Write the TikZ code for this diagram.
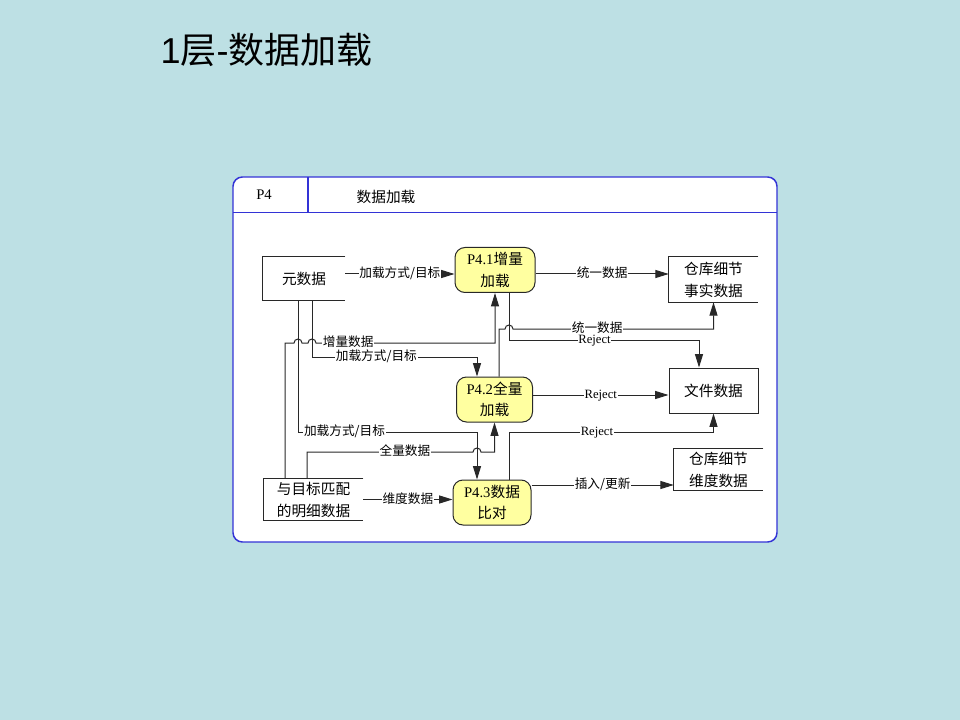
\documentclass[tikz,border=0pt]{standalone}
\usepackage{fontspec}
\setmainfont{Liberation Serif}
\newfontfamily\cjk{Noto Sans CJK SC}
\newfontfamily\titlesans{Liberation Sans}
\usetikzlibrary{arrows.meta}
\definecolor{pagebg}{RGB}{189,224,228}
\definecolor{framebl}{RGB}{51,51,214}
\definecolor{procfill}{RGB}{255,255,160}
\definecolor{inkgray}{RGB}{40,40,40}
\newcommand\zh[1]{{\cjk #1}}

\begin{document}
\begin{tikzpicture}[x=0.75pt,y=-0.75pt,
  proc/.style={draw=inkgray, line width=0.75pt, fill=procfill, rounded corners=7.5pt,
    inner sep=0pt, align=center, font=\fontsize{11}{16}\selectfont},
  store/.style={inner sep=0pt, align=center, font=\fontsize{11}{16.5}\selectfont},
  boxline/.style={draw=inkgray, line width=0.75pt},
  flow/.style={draw=inkgray, line width=0.75pt, -{Triangle[length=10pt,width=6pt]}},
  lbl/.style={fill=white, inner xsep=0.6pt, inner ysep=0pt, text height=0.7em, text depth=0.12em,
    text=black, font=\fontsize{9.5}{10}\selectfont},
]
% page and frame
\fill[pagebg] (0,0) rectangle (960,720);
\useasboundingbox (0,0) rectangle (960,720);

\node[anchor=west, font=\fontsize{27}{30}\selectfont] (title) at (156,50)
  {{\titlesans 1}\zh{层}{\titlesans -}\zh{数据加载}};

\draw[framebl, line width=1.1pt, fill=white, rounded corners=7pt] (233,177) rectangle (777,542);
\draw[framebl, line width=1.1pt] (233,212.5) -- (777,212.5);
\draw[framebl, line width=1.1pt] (308,177) -- (308,212.5);
\node[font=\fontsize{11}{12}\selectfont] (pid) at (264,195) {P4};
\node[font=\fontsize{11}{12}\selectfont] (pname) at (386,197) {\zh{数据加载}};

% processes
\node[proc, minimum width=60pt, minimum height=33.75pt] (p41) at (495,270)
  {P4.1\zh{增量}\\\zh{加载}};
\node[proc, minimum width=57pt, minimum height=33.75pt] (p42) at (494.5,399.5)
  {P4.2\zh{全量}\\\zh{加载}};
\node[proc, minimum width=58.5pt, minimum height=33.75pt] (p43) at (492,502.5)
  {P4.3\zh{数据}\\\zh{比对}};

% data stores
\node[store, minimum width=61.5pt, minimum height=32.25pt] (meta) at (304,278.5) {\zh{元数据}};
\node[store, minimum width=66.75pt, minimum height=33.75pt] (fact) at (713.5,279.5)
  {\zh{仓库细节}\\\zh{事实数据}};
\node[store, boxline, minimum width=66.75pt, minimum height=33.75pt] (file) at (713.5,390.5)
  {\zh{文件数据}};
\node[store, minimum width=66.75pt, minimum height=30.75pt] (dim) at (718.5,469.5)
  {\zh{仓库细节}\\\zh{维度数据}};
\node[store, minimum width=74.25pt, minimum height=30.75pt] (match) at (313.5,499.5)
  {\zh{与目标匹配}\\\zh{的明细数据}};
\foreach \n in {meta,fact,dim,match}
  \draw[boxline] (\n.north east) -- (\n.north west) -- (\n.south west) -- (\n.south east);

% routing points
\coordinate (y274) at (0,274);
\coordinate (y395) at (0,395);
\coordinate (y485) at (0,485);
\coordinate (inc) at (285,343);
\coordinate (ld1) at (312,357);
\coordinate (ld2) at (298,432);
\coordinate (ful) at (307,452);
\coordinate (xe) at (477,0);
\coordinate (u2) at (499,329);
\coordinate (r1) at (509,340);
\coordinate (r3) at (509,432);
\coordinate (xj) at (699,0);

% flows
\draw[flow] (meta.east |- y274) -- node[lbl]{\zh{加载方式/目标}} (p41.west |- y274);
\draw[flow] (p41.east |- y274) -- node[lbl]{\zh{统一数据}} (fact.west |- y274);

\draw[flow] (inc |- match.north) -- (inc)
  -- ([xshift=-3pt]ld2 |- inc) arc[start angle=180, end angle=360, radius=4]
  -- ([xshift=-3pt]ld1 |- inc) arc[start angle=180, end angle=360, radius=4]
  -- node[lbl, pos=0.18]{\zh{增量数据}} (p41.south |- inc) -- (p41.south);

\draw[flow] (ld1 |- meta.south) -- (ld1)
  -- node[lbl, pos=0.39]{\zh{加载方式/目标}} (xe |- ld1) -- (xe |- p42.north);

\draw[flow] (ld2 |- meta.south) -- (ld2)
  -- node[lbl, pos=0.26]{\zh{加载方式/目标}} (xe |- ld2) -- (xe |- p43.north);

\draw[flow] (ful |- match.north) -- (ful)
  -- node[lbl, pos=0.59]{\zh{全量数据}} ([xshift=-3pt]xe |- ful)
  arc[start angle=180, end angle=360, radius=4]
  -- (p42.south |- ful) -- (p42.south);

\draw[flow] (match.east) -- node[lbl]{\zh{维度数据}} (p43.west |- match.east);
\draw[flow] (p43.east |- y485) -- node[lbl]{\zh{插入/更新}} (dim.west |- y485);

\draw[flow] (r3 |- p43.north) -- (r3)
  -- node[lbl, pos=0.43]{Reject} (file.south |- r3) -- (file.south);
\draw[flow] (p42.east |- y395) -- node[lbl]{Reject} (file.west |- y395);

\draw[flow] (u2 |- p42.north) -- (u2)
  -- ([xshift=-3pt]r1 |- u2) arc[start angle=180, end angle=360, radius=4]
  -- node[lbl, pos=0.42]{\zh{统一数据}} (fact.south |- u2) -- (fact.south);

\draw[flow] (r1 |- p41.south) -- (r1)
  -- node[lbl, pos=0.45]{Reject} (xj |- r1) -- (xj |- file.north);
\end{tikzpicture}
\end{document}
